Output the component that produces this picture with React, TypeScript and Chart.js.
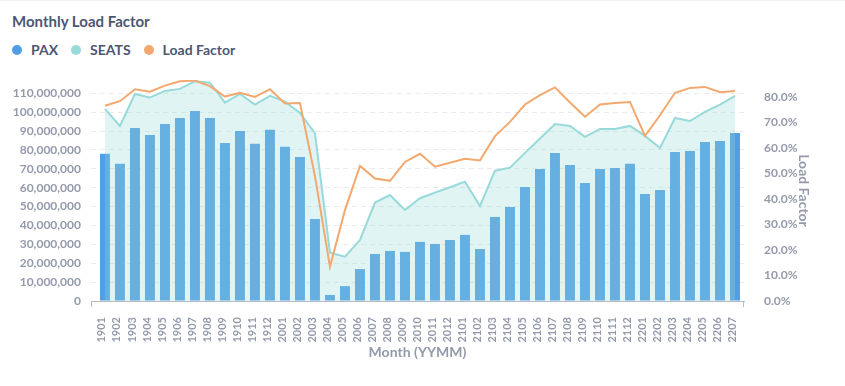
import React, { useEffect, useRef } from 'react';
import { Chart, registerables } from 'chart.js';

Chart.register(...registerables);

const months = [
  '1901', '1902', '1903', '1904', '1905', '1906', '1907', '1908', '1909', '1910', '1911', '1912',
  '2001', '2002', '2003', '2004', '2005', '2006', '2007', '2008', '2009', '2010', '2011', '2012',
  '2101', '2102', '2103', '2104', '2105', '2106', '2107', '2108', '2109', '2110', '2111', '2112',
  '2201', '2202', '2203', '2204', '2205', '2206', '2207',
];

const paxValues = [
  77900000, 72600000, 91600000, 87900000, 93700000, 96900000, 100600000, 96900000, 83700000, 90000000, 83200000, 90600000,
  81600000, 76300000, 43400000, 3200000, 7900000, 16900000, 24900000, 26500000, 26000000, 31300000, 30200000, 32300000,
  35000000, 27500000, 44500000, 49800000, 60400000, 69900000, 78400000, 72000000, 62500000, 69900000, 70400000, 72600000,
  56700000, 58800000, 78900000, 79400000, 84200000, 84700000, 89000000,
];

const seatValues = [
  101700000, 92700000, 109600000, 107700000, 111200000, 112300000, 116300000, 115600000, 105000000, 109600000, 104000000, 108600000,
  105600000, 99500000, 88800000, 25600000, 23500000, 32300000, 52100000, 56100000, 48200000, 54400000, 57400000, 60200000,
  63200000, 50300000, 69000000, 70600000, 78400000, 86000000, 93700000, 92700000, 86900000, 91100000, 91100000, 92700000,
  87400000, 81000000, 96900000, 95300000, 100100000, 104000000, 108600000,
];

const loadFactorValues = [
  76.5, 78.3, 83.0, 82.0, 84.4, 86.1, 86.4, 84.2, 80.1, 81.6, 80.0, 83.0,
  77.4, 77.6, 48.9, 13.4, 35.6, 52.9, 48.0, 47.1, 54.5, 57.7, 52.6, 54.2,
  55.7, 55.1, 64.6, 70.2, 77.0, 80.7, 83.7, 77.8, 72.2, 77.0, 77.6, 78.0,
  64.7, 72.8, 81.6, 83.5, 83.9, 81.8, 82.3,
];

const paxTicks = [0, 10000000, 20000000, 30000000, 40000000, 50000000, 60000000, 70000000, 80000000, 90000000, 100000000, 110000000];

const seriesNames = ['PAX', 'SEATS', 'Load Factor'];
const seriesColors = ['#509EE3', '#98D9D9', '#F2A86F'];

const TEXT_DARK = '#4C5773';
const TEXT_LIGHT = '#949AAB';
const AXIS_LINE = '#B8BBC4';
const FONT = 'Lato, "Open Sans", sans-serif';

const edgeTicks = {
  id: 'edgeTicks',
  afterDraw(chart: any) {
    const { ctx, chartArea } = chart;
    ctx.save();
    ctx.strokeStyle = AXIS_LINE;
    ctx.lineWidth = 1;
    ctx.beginPath();
    ctx.moveTo(Math.round(chartArea.left) + 0.5, chartArea.bottom);
    ctx.lineTo(Math.round(chartArea.left) + 0.5, chartArea.bottom + 6);
    ctx.moveTo(Math.round(chartArea.right) - 0.5, chartArea.bottom);
    ctx.lineTo(Math.round(chartArea.right) - 0.5, chartArea.bottom + 6);
    ctx.stroke();
    ctx.restore();
  },
};

export default function App() {
  const canvasRef = useRef<HTMLCanvasElement | null>(null);

  useEffect(() => {
    document.body.style.margin = '0';
    const canvas = canvasRef.current;
    if (!canvas) return;
    const chart = new Chart(canvas, {
      type: 'bar',
      data: {
        datasets: [
          {
            type: 'bar',
            label: seriesNames[0],
            data: paxValues.map((v, i) => ({ x: i, y: v })),
            backgroundColor: seriesColors[0],
            borderWidth: 0,
            yAxisID: 'y',
            order: 2,
            categoryPercentage: 0.8,
            barPercentage: 0.83,
          },
          {
            type: 'line',
            label: seriesNames[1],
            data: seatValues.map((v, i) => ({ x: i, y: v })),
            borderColor: seriesColors[1],
            backgroundColor: 'rgba(152, 217, 217, 0.3)',
            borderWidth: 2,
            pointRadius: 0,
            fill: 'origin',
            tension: 0,
            yAxisID: 'y',
            order: 1,
          },
          {
            type: 'line',
            label: seriesNames[2],
            data: loadFactorValues.map((v, i) => ({ x: i, y: v })),
            borderColor: seriesColors[2],
            backgroundColor: seriesColors[2],
            borderWidth: 2,
            pointRadius: 0,
            fill: false,
            tension: 0,
            yAxisID: 'y1',
            order: 0,
          },
        ],
      } as any,
      options: {
        animation: false,
        responsive: false,
        maintainAspectRatio: false,
        layout: { padding: { top: 80, left: 0, right: 28, bottom: 0 } },
        plugins: {
          legend: { display: false },
          title: { display: false },
          tooltip: { enabled: false },
        },
        scales: {
          x: {
            type: 'linear',
            offset: false,
            min: -0.93,
            max: 42.6,
            bounds: 'data',
            grid: { display: false, offset: false },
            border: { display: true, color: AXIS_LINE, width: 1 },
            afterBuildTicks: (scale: any) => {
              scale.ticks = months.map((_, i) => ({ value: i }));
            },
            afterFit: (scale: any) => {
              scale.height = 85;
            },
            ticks: {
              autoSkip: false,
              minRotation: 90,
              maxRotation: 90,
              padding: 8,
              labelOffset: -3,
              color: TEXT_LIGHT,
              font: { family: FONT, size: 11, weight: 'bold' },
              callback: (value: any) => months[value as number] ?? '',
            },
            title: {
              display: true,
              text: 'Month (YYMM)',
              color: TEXT_LIGHT,
              font: { family: FONT, size: 14, weight: 'bold' },
              padding: { top: 4, bottom: 25.6 },
            },
          },
          y: {
            type: 'linear',
            position: 'left',
            min: 0,
            max: 117000000,
            grid: { color: '#EBEBEB', drawTicks: false },
            border: { display: false, dash: [5, 4] },
            afterBuildTicks: (scale: any) => {
              scale.ticks = paxTicks.map((v) => ({ value: v }));
            },
            afterFit: (scale: any) => {
              scale.width = 91;
            },
            ticks: {
              padding: 10,
              color: TEXT_LIGHT,
              font: { family: FONT, size: 12, weight: 'bold' },
              callback: (value: any) => Number(value).toLocaleString('en-US'),
            },
          },
          y1: {
            type: 'linear',
            position: 'right',
            min: 0,
            max: 86.6,
            grid: { display: false, drawOnChartArea: false },
            border: { display: false },
            afterFit: (scale: any) => {
              scale.width = 73;
            },
            ticks: {
              stepSize: 10,
              includeBounds: false,
              padding: 12,
              color: TEXT_LIGHT,
              font: { family: FONT, size: 12, weight: 'bold' },
              callback: (value: any) => Number(value).toFixed(1) + '%',
            },
            title: {
              display: true,
              text: 'Load Factor',
              color: TEXT_LIGHT,
              font: { family: FONT, size: 14, weight: 'bold' },
              padding: { top: 4.6, bottom: 4 },
            },
          },
        },
      } as any,
      plugins: [edgeTicks],
    });
    return () => chart.destroy();
  }, []);

  return (
    <div style={{ position: 'relative', width: 845, height: 386, background: '#fff', fontFamily: FONT }}>
      <div style={{ position: 'absolute', left: 0, top: 0, width: 845, height: 1, background: '#F3F3F3' }} />
      <div
        style={{
          position: 'absolute',
          left: 12,
          top: 12,
          fontSize: 15,
          fontWeight: 'bold',
          color: TEXT_DARK,
          lineHeight: '19px',
          whiteSpace: 'nowrap',
        }}
      >
        Monthly Load Factor
      </div>
      <div
        style={{
          position: 'absolute',
          left: 12,
          top: 41,
          height: 18,
          display: 'flex',
          alignItems: 'center',
          whiteSpace: 'nowrap',
        }}
      >
        {seriesNames.map((name, i) => (
          <div key={name} style={{ display: 'flex', alignItems: 'center', marginRight: 13 }}>
            <span
              style={{
                display: 'inline-block',
                width: 10,
                height: 10,
                borderRadius: '50%',
                background: seriesColors[i],
              }}
            />
            <span style={{ marginLeft: 9, fontSize: 14, fontWeight: 'bold', color: TEXT_DARK, lineHeight: '18px' }}>
              {name}
            </span>
          </div>
        ))}
      </div>
      <canvas ref={canvasRef} width={845} height={386} style={{ position: 'absolute', left: 0, top: 0 }} />
    </div>
  );
}
